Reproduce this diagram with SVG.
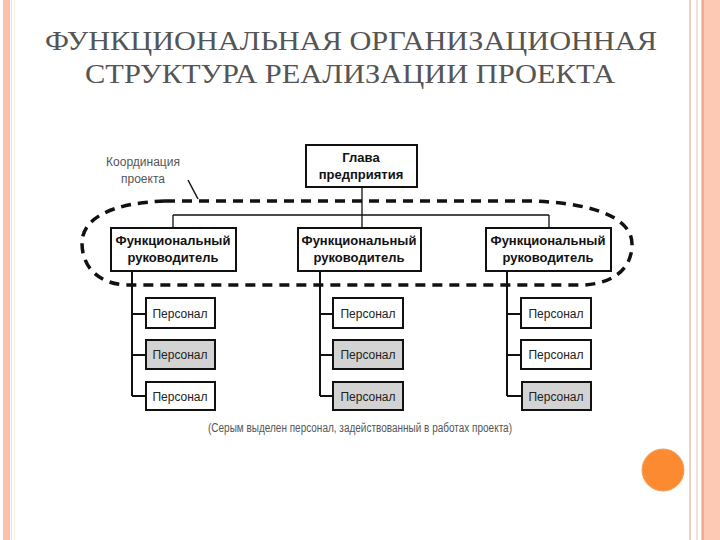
<svg xmlns="http://www.w3.org/2000/svg" width="720" height="540" viewBox="0 0 720 540">
<style>
.title{font-family:"Times New Roman","Liberation Serif","Noto Serif","DejaVu Serif",FreeSerif,serif;font-size:28px;font-weight:normal;fill:#555;text-anchor:middle}
.box{fill:#fff;stroke:#111;stroke-width:2}
.grey{fill:#d3d3d3;stroke:#111;stroke-width:2}
.bold{font-family:"Liberation Sans",Arial,sans-serif;font-size:13px;font-weight:bold;fill:#111;text-anchor:middle}
.pers{font-family:"Liberation Sans",Arial,sans-serif;font-size:12px;fill:#222;text-anchor:middle}
.note{font-family:"Liberation Sans",Arial,sans-serif;font-size:12px;fill:#555;text-anchor:middle}
.line{fill:none;stroke:#111;stroke-width:1.3}
.tree{fill:none;stroke:#111;stroke-width:2}
</style>
<rect x="0" y="0" width="720" height="540" fill="#fff"/>
<g id="borders">
<rect x="3" y="0" width="7" height="540" fill="#fcc0a8"/>
<rect x="11" y="0" width="1" height="540" fill="#f6dcd0"/>
<rect x="14" y="0" width="1" height="540" fill="#fbf0e4"/>
<rect x="689" y="0" width="2" height="540" fill="#ecd0c2"/>
<rect x="696" y="0" width="2" height="540" fill="#f4e0d4"/>
<rect x="701" y="0" width="19" height="540" fill="#fdc8b4"/>
<rect x="702" y="0" width="2" height="540" fill="#f3aa90"/>
</g>
<g id="title">
<text class="title" x="351" y="50" textLength="612" lengthAdjust="spacingAndGlyphs">ФУНКЦИОНАЛЬНАЯ ОРГАНИЗАЦИОННАЯ</text>
<text class="title" x="350" y="83" textLength="530" lengthAdjust="spacingAndGlyphs">СТРУКТУРА РЕАЛИЗАЦИИ ПРОЕКТА</text>
</g>
<g id="connectors">
<path class="line" d="M362,187 V215 M173,215 H549 M173,215 V228 M362,215 V228 M549,215 V228"/>
<path class="tree" d="M132,271 V396 M132,314 H146 M132,355 H146 M132,396 H146"/>
<path class="tree" d="M320,271 V396 M320,314 H333 M320,355 H333 M320,396 H333"/>
<path class="tree" d="M507,271 V396 M507,314 H521 M507,355 H521 M507,396 H521"/>
<path d="M188,180 L198,199" fill="none" stroke="#111" stroke-width="1.5"/>
</g>
<g id="coordination">
<path d="M165,201 L535,201 C600,204 632,220 632,244 C632,270 612,283 585,285 L125,285 C97,283 82,266 82,243 C82,220 108,203 165,201 Z" fill="none" stroke="#111" stroke-width="3.5" stroke-dasharray="10 7"/>
<text class="note" x="143" y="166">Координация</text>
<text class="note" x="143" y="183">проекта</text>
</g>
<g id="head">
<rect class="box" x="306" y="145" width="111" height="42"/>
<text class="bold" x="361" y="162">Глава</text>
<text class="bold" x="361" y="179">предприятия</text>
</g>
<g id="manager1">
<rect class="box" x="111" y="228" width="125" height="43"/>
<text class="bold" x="173" y="245">Функциональный</text>
<text class="bold" x="173" y="262">руководитель</text>
</g>
<g id="manager2">
<rect class="box" x="298" y="228" width="123" height="43"/>
<text class="bold" x="359" y="245">Функциональный</text>
<text class="bold" x="359" y="262">руководитель</text>
</g>
<g id="manager3">
<rect class="box" x="486" y="228" width="125" height="43"/>
<text class="bold" x="548" y="245">Функциональный</text>
<text class="bold" x="548" y="262">руководитель</text>
</g>
<g id="p1a"><rect class="box" x="146" y="298" width="69" height="30"/><text class="pers" x="180" y="318">Персонал</text></g>
<g id="p1b"><rect class="grey" x="146" y="340" width="69" height="29"/><text class="pers" x="180" y="359">Персонал</text></g>
<g id="p1c"><rect class="box" x="146" y="382" width="69" height="28"/><text class="pers" x="180" y="401">Персонал</text></g>
<g id="p2a"><rect class="box" x="333" y="298" width="70" height="30"/><text class="pers" x="368" y="318">Персонал</text></g>
<g id="p2b"><rect class="grey" x="333" y="340" width="70" height="29"/><text class="pers" x="368" y="359">Персонал</text></g>
<g id="p2c"><rect class="grey" x="333" y="382" width="70" height="28"/><text class="pers" x="368" y="401">Персонал</text></g>
<g id="p3a"><rect class="box" x="521" y="298" width="70" height="30"/><text class="pers" x="556" y="318">Персонал</text></g>
<g id="p3b"><rect class="box" x="521" y="340" width="70" height="29"/><text class="pers" x="556" y="359">Персонал</text></g>
<g id="p3c"><rect class="grey" x="522" y="382" width="69" height="28"/><text class="pers" x="556" y="401">Персонал</text></g>
<text class="note" x="360" y="432" font-size="10.5" textLength="304" lengthAdjust="spacingAndGlyphs">(Серым выделен персонал, задействованный в работах проекта)</text>
<circle id="dot" cx="663" cy="470" r="21" fill="#fb8a30" stroke="#f3a060" stroke-width="1"/>
</svg>
